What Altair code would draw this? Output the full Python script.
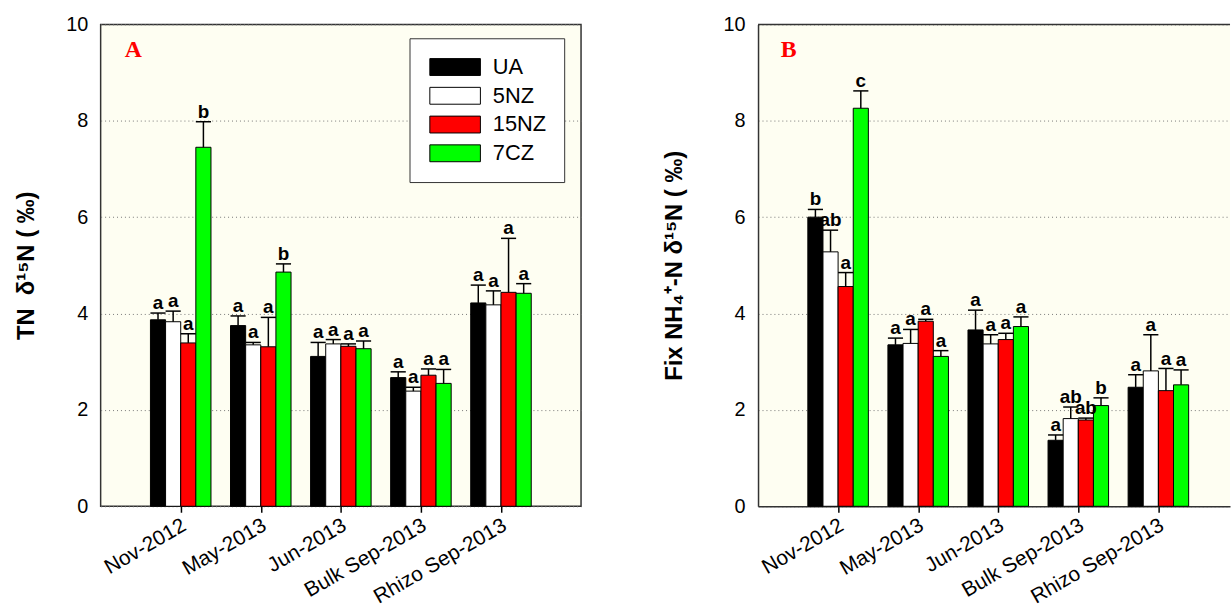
import altair as alt
import pandas as pd

FONT = "Liberation Sans"
CREAM = "#fefef2"
FRAME = "#333333"

periods = ["Nov-2012", "May-2013", "Jun-2013", "Bulk Sep-2013", "Rhizo Sep-2013"]
treatments = ["UA", "5NZ", "15NZ", "7CZ"]
colors = ["#000000", "#ffffff", "#ff0000", "#00ff00"]

# Panel A: TN d15N (per mil)
tn_ua = [3.87, 3.75, 3.11, 2.67, 4.22]
tn_5nz = [3.83, 3.35, 3.37, 2.39, 4.18]
tn_15nz = [3.39, 3.31, 3.32, 2.72, 4.44]
tn_7cz = [7.45, 4.86, 3.27, 2.55, 4.42]
tn_se_ua = [0.14, 0.20, 0.29, 0.12, 0.37]
tn_se_5nz = [0.22, 0.05, 0.09, 0.08, 0.29]
tn_se_15nz = [0.19, 0.61, 0.05, 0.13, 1.12]
tn_se_7cz = [0.53, 0.17, 0.16, 0.29, 0.20]
tn_let_ua = ["a", "a", "a", "a", "a"]
tn_let_5nz = ["a", "a", "a", "a", "a"]
tn_let_15nz = ["a", "a", "a", "a", "a"]
tn_let_7cz = ["b", "b", "a", "a", "a"]

# Panel B: Fix NH4+-N d15N (per mil)
fx_ua = [6.00, 3.35, 3.66, 1.37, 2.47]
fx_5nz = [5.28, 3.38, 3.37, 1.82, 2.81]
fx_15nz = [4.56, 3.84, 3.46, 1.79, 2.40]
fx_7cz = [8.26, 3.11, 3.73, 2.09, 2.52]
fx_se_ua = [0.16, 0.14, 0.41, 0.11, 0.26]
fx_se_5nz = [0.45, 0.29, 0.19, 0.24, 0.75]
fx_se_15nz = [0.29, 0.04, 0.13, 0.04, 0.46]
fx_se_7cz = [0.36, 0.12, 0.20, 0.16, 0.31]
fx_let_ua = ["b", "a", "a", "a", "a"]
fx_let_5nz = ["ab", "a", "a", "ab", "a"]
fx_let_15nz = ["a", "a", "a", "ab", "a"]
fx_let_7cz = ["c", "a", "a", "b", "a"]


def build_df(means, ses, letters):
    rows = []
    for ti, t in enumerate(treatments):
        for pi, p in enumerate(periods):
            rows.append(dict(period=p, pidx=pi + 1, tidx=ti, treatment=t,
                             mean=means[ti][pi], se=ses[ti][pi],
                             letter=letters[ti][pi]))
    return pd.DataFrame(rows)


df_a = build_df([tn_ua, tn_5nz, tn_15nz, tn_7cz],
                [tn_se_ua, tn_se_5nz, tn_se_15nz, tn_se_7cz],
                [tn_let_ua, tn_let_5nz, tn_let_15nz, tn_let_7cz])
df_b = build_df([fx_ua, fx_5nz, fx_15nz, fx_7cz],
                [fx_se_ua, fx_se_5nz, fx_se_15nz, fx_se_7cz],
                [fx_let_ua, fx_let_5nz, fx_let_15nz, fx_let_7cz])

BW = 0.189          # width of one bar in category units
STEP = 80.75        # pixels per category unit
H = 486
label_expr = "[" + ",".join("'%s'" % p for p in periods) + "][datum.value - 1]"
legend_path = "M-3,-1L3,-1L3,1L-3,1Z"
NB = "\u00a0"


def panel(df, ytitle, tag, width, title_x, tag_x, first):
    xmax = width / STEP
    base = alt.Chart(df).transform_calculate(
        xc="datum.pidx + (datum.tidx - 1.5) * %f" % BW,
        x0="datum.pidx + (datum.tidx - 2) * %f" % BW,
        x1="datum.pidx + (datum.tidx - 1) * %f" % BW,
        top="datum.mean + datum.se",
        zero="0",
    )
    xscale = alt.Scale(domain=[0, xmax], nice=False, zero=False)
    yscale = alt.Scale(domain=[0, 10], nice=False)
    xaxis = alt.Axis(values=[1, 2, 3, 4, 5], labelExpr=label_expr, title=None,
                     grid=False, domain=not first, domainColor=FRAME,
                     domainWidth=1.5, ticks=True, tickSize=6, tickColor="#000",
                     tickWidth=1.5, labelAngle=330, labelAlign="right",
                     labelBaseline="top", labelFontSize=21, labelPadding=2,
                     labelOffset=-2, labelColor="#000", labelFont=FONT,
                     labelOverlap=False, labelBound=False, labelFlush=False)
    yaxis = alt.Axis(values=[0, 2, 4, 6, 8, 10], title=ytitle, grid=True,
                     gridColor="#777", gridDash=[1, 3], gridWidth=1,
                     ticks=False, domain=not first, domainColor=FRAME,
                     domainWidth=1.5, labelFontSize=20, labelPadding=13,
                     labelColor="#000", labelFont=FONT, titleFont=FONT,
                     titleFontSize=24, titleFontWeight="bold",
                     titleColor="#000", titleAngle=270,
                     titleBaseline="alphabetic", titleX=title_x)
    if first:
        legend = alt.Legend(orient="none", legendX=311.5, legendY=14,
                            title=None, symbolType=legend_path,
                            symbolSize=289, symbolOffset=17,
                            symbolStrokeColor="#000",
                            symbolStrokeWidth=1, symbolOpacity=1,
                            labelFontSize=22, labelFont=FONT,
                            labelColor="#000", labelOffset=27, padding=18,
                            rowPadding=7, fillColor="white",
                            strokeColor=FRAME)
    else:
        legend = None
    bars = base.mark_bar(stroke="#000", strokeWidth=1).encode(
        x=alt.X("x0:Q", scale=xscale, axis=xaxis),
        x2="x1:Q",
        y=alt.Y("mean:Q", scale=yscale, axis=yaxis, stack=False),
        y2="zero:Q",
        fill=alt.Fill("treatment:N",
                      scale=alt.Scale(domain=treatments, range=colors),
                      legend=legend, sort=treatments),
    )
    err = base.mark_rule(color="#000", strokeWidth=1.5).encode(
        x="xc:Q", y="mean:Q", y2="top:Q")
    cap = base.mark_rule(color="#000", strokeWidth=1.5).encode(
        x="x0:Q", x2="x1:Q", y="top:Q")
    letters = base.mark_text(font=FONT, fontWeight="bold", fontSize=19,
                             baseline="alphabetic", dy=-4,
                             color="#000").encode(
        x="xc:Q", y="top:Q", text="letter:N")
    tag_chart = alt.Chart(pd.DataFrame({"tag": [tag]})).mark_text(
        font="Liberation Serif", fontWeight="bold", fontSize=24,
        color="#ff0000", align="center", baseline="alphabetic").encode(
        x=alt.value(tag_x), y=alt.value(33), text="tag:N")
    layers = [bars, err, cap, letters, tag_chart]
    if not first:
        border = alt.Chart(pd.DataFrame({"tag": [tag]})).mark_rule(
            color=FRAME, strokeWidth=1.5).encode(
            x=alt.value(0), x2=alt.value(width), y=alt.value(0))
        layers.append(border)
    ch = alt.layer(*layers).properties(width=width, height=H)
    if not first:
        ch = ch.properties(view=alt.ViewBackground(fill=CREAM,
                                                   stroke="transparent"))
    return ch


title_a = "TN" + NB + NB + "δ¹⁵N" + NB + "(" + NB + "‰)"
title_b = "Fix" + NB + "NH₄⁺-N" + NB + "δ¹⁵N" + NB + "(" + NB + "‰)"
panel_a = panel(df_a, title_a, "A", 484.5, -67.5, 33, True)
panel_b = panel(df_b, title_b, "B", 476, -77, 31, False)

chart = alt.hconcat(panel_a, panel_b, spacing=80).properties(
    padding={"left": 13.5, "top": 11, "right": 0, "bottom": 0},
    background="white",
).configure_view(fill=CREAM, stroke=FRAME, strokeWidth=1.5)

chart.save("out.html", embed_options={"renderer": "svg", "actions": False})
